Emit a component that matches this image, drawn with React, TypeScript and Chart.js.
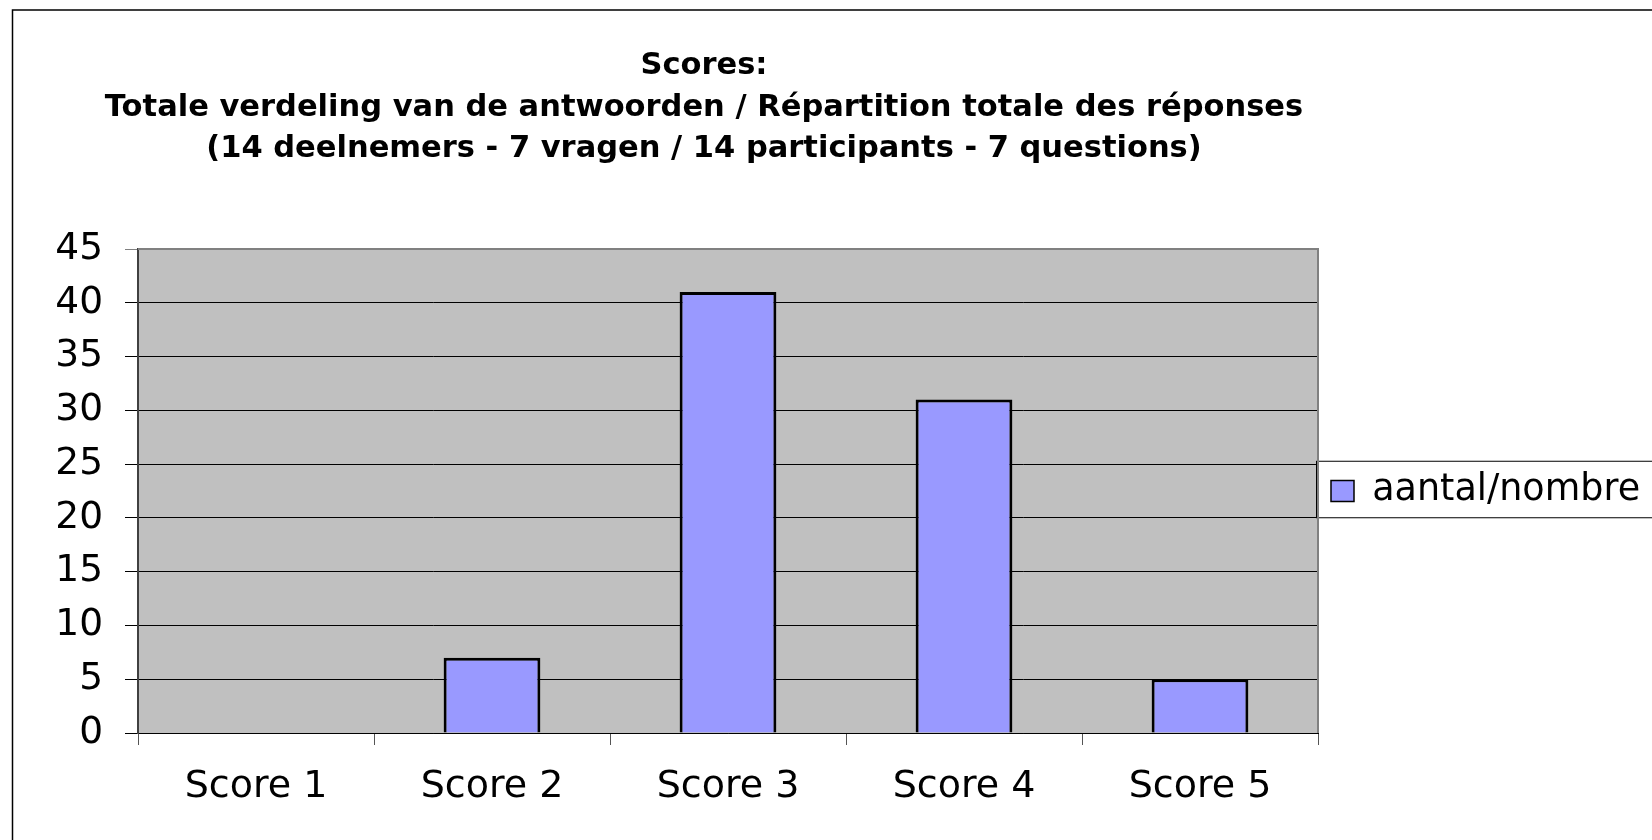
import React, { useEffect, useRef } from "react";
import { Chart, registerables } from "chart.js";

Chart.register(...registerables);

// ---- data ----
const categories = ["Score 1", "Score 2", "Score 3", "Score 4", "Score 5"];
const counts = [0, 7, 41, 31, 5];
const seriesLabel = "aantal/nombre";
const titleLines = [
  "Scores:",
  "Totale verdeling van de antwoorden / Répartition totale des réponses",
  "(14 deelnemers - 7 vragen / 14 participants - 7 questions)",
];
const yMin = 0;
const yMax = 45;
const yStep = 5;

// ---- layout / style ----
const W = 1652;
const H = 840;
const PLOT_LEFT = 138;
const PLOT_RIGHT = 1318;
const PLOT_BOTTOM = 733;
const TITLE_CENTER_X = 704;
const FONT = "'DejaVu Sans'";
const LEGEND_FONT_SIZE = 36.5;
const LEGEND_PAD = 13;
const LEGEND_BOX_W = 23;
const LEGEND_BOX_H = 21;

function legendRightPadding(): number {
  const c = document.createElement("canvas");
  const ctx = c.getContext("2d");
  let tw = 268;
  if (ctx) {
    ctx.font = `${LEGEND_FONT_SIZE}px ${FONT}`;
    tw = ctx.measureText(seriesLabel).width;
  }
  const legendWidth = LEGEND_PAD + LEGEND_BOX_W + LEGEND_FONT_SIZE / 2 + tw + 10;
  return W - PLOT_RIGHT - legendWidth;
}

const decor = {
  id: "decor",
  afterLayout(chart: any) {
    const t = chart.titleBlock;
    if (t) {
      t.left = 0;
      t.right = TITLE_CENTER_X * 2;
    }
  },
  beforeDraw(chart: any) {
    const { ctx, chartArea: a } = chart;
    ctx.save();
    ctx.fillStyle = "#ffffff";
    ctx.fillRect(0, 0, W, H);
    // outer frame (top + left)
    ctx.strokeStyle = "#000";
    ctx.lineWidth = 1.5;
    ctx.beginPath();
    ctx.moveTo(12.5, H + 5);
    ctx.lineTo(12.5, 10);
    ctx.lineTo(W + 5, 10);
    ctx.stroke();
    // plot background
    ctx.fillStyle = "#C0C0C0";
    ctx.fillRect(a.left, a.top, a.right - a.left, a.bottom - a.top);
    // legend frame
    const lg = chart.legend;
    if (lg && lg.legendHitBoxes && lg.legendHitBoxes.length) {
      const hb = lg.legendHitBoxes[0];
      const top = hb.top - 12;
      const bottom = hb.top + hb.height + 8;
      const left = lg.left - 2;
      ctx.fillStyle = "#fff";
      ctx.fillRect(left, top, W + 10 - left, bottom - top);
      ctx.strokeStyle = "#000";
      ctx.lineWidth = 1;
      ctx.strokeRect(left + 0.5, top + 0.5, W + 10 - left, bottom - top);
    }
    ctx.restore();
  },
  beforeDatasetsDraw(chart: any) {
    const { ctx, chartArea: a } = chart;
    ctx.save();
    ctx.strokeStyle = "#808080";
    ctx.lineWidth = 2;
    ctx.beginPath();
    ctx.moveTo(a.left, a.top);
    ctx.lineTo(a.right, a.top);
    ctx.lineTo(a.right, a.bottom);
    ctx.stroke();
    ctx.restore();
  },
};

export default function App() {
  const ref = useRef<HTMLCanvasElement | null>(null);

  useEffect(() => {
    const canvas = ref.current;
    if (!canvas) return;
    const padR = legendRightPadding();
    const chart = new Chart(canvas, {
      type: "bar",
      data: {
        labels: categories,
        datasets: [
          {
            label: seriesLabel,
            data: counts,
            backgroundColor: "#9999FF",
            borderColor: "#000000",
            borderWidth: 3,
            barPercentage: 0.41,
            categoryPercentage: 1,
          },
        ],
      },
      options: {
        animation: false,
        responsive: false,
        devicePixelRatio: 1,
        layout: { padding: { left: 0, top: 0, right: padR, bottom: 0 } },
        plugins: {
          title: {
            display: true,
            text: titleLines,
            color: "#000",
            fullSize: true,
            font: { family: FONT, size: 30.5, weight: "bold", lineHeight: 41.5 / 30.5 },
            padding: { top: 45.75, bottom: 78.75 },
          },
          legend: {
            display: true,
            position: "right",
            align: "center",
            fullSize: false,
            labels: {
              color: "#000",
              font: { family: FONT, size: LEGEND_FONT_SIZE },
              boxWidth: LEGEND_BOX_W,
              boxHeight: LEGEND_BOX_H,
              padding: LEGEND_PAD,
              generateLabels: (c: any) =>
                (Chart.defaults.plugins.legend.labels as any)
                  .generateLabels(c)
                  .map((l: any) => ({ ...l, lineWidth: 1.5 })),
            },
          },
          tooltip: { enabled: false },
        },
        scales: {
          x: {
            ticks: { color: "#000", font: { family: FONT, size: 38 }, padding: 19 },
            grid: { offset: true, drawOnChartArea: false, drawTicks: true, tickLength: 12, color: "#555", lineWidth: 1 },
            border: { color: "#000", width: 1 },
            afterFit: (s: any) => {
              s.height = H - PLOT_BOTTOM;
            },
          },
          y: {
            min: yMin,
            max: yMax,
            ticks: { stepSize: yStep, color: "#000", font: { family: FONT, size: 37.5 }, padding: 22 },
            grid: {
              color: (c: any) => (c.tick && c.tick.value === yMax ? "#808080" : "#000"),
              lineWidth: 1,
              tickLength: 13,
              drawTicks: true,
            },
            border: { color: "#404040", width: 2 },
            afterFit: (s: any) => {
              s.width = PLOT_LEFT;
            },
          },
        },
      },
      plugins: [decor],
    } as any);
    return () => chart.destroy();
  }, []);

  return (
    <div style={{ position: "fixed", left: 0, top: 0, width: W, height: H, overflow: "hidden", background: "#fff" }}>
      <canvas ref={ref} width={W} height={H} style={{ width: W, height: H, display: "block" }} />
    </div>
  );
}
